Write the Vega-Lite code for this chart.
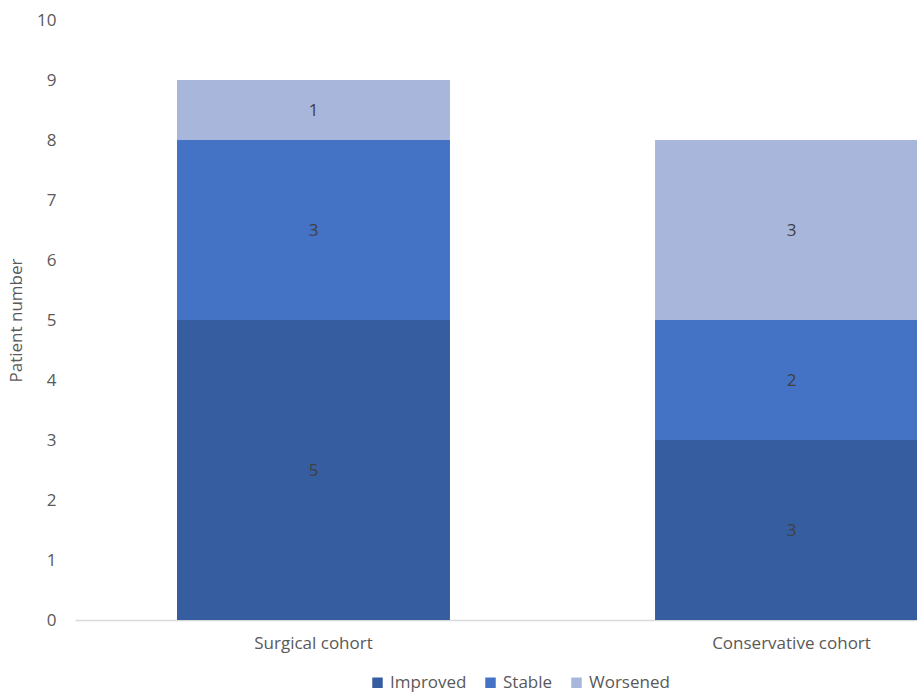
{
  "$schema": "https://vega.github.io/schema/vega-lite/v6.json",
  "width": 842,
  "height": 600,
  "autosize": {"type": "none"},
  "padding": {"left": 75, "top": 20, "right": 0, "bottom": 72},
  "background": "white",
  "config": {
    "view": {"stroke": null},
    "font": "Open Sans"
  },
  "data": {
    "values": [
      {"cohort": "Surgical cohort", "outcome": "Improved", "order": 1, "n": 5},
      {"cohort": "Surgical cohort", "outcome": "Stable", "order": 2, "n": 3},
      {"cohort": "Surgical cohort", "outcome": "Worsened", "order": 3, "n": 1},
      {"cohort": "Conservative cohort", "outcome": "Improved", "order": 1, "n": 3},
      {"cohort": "Conservative cohort", "outcome": "Stable", "order": 2, "n": 2},
      {"cohort": "Conservative cohort", "outcome": "Worsened", "order": 3, "n": 3}
    ]
  },
  "transform": [
    {"stack": "n", "groupby": ["cohort"], "sort": [{"field": "order", "order": "ascending"}], "as": ["y0", "y1"]},
    {"calculate": "(datum.y0 + datum.y1) / 2", "as": "ymid"}
  ],
  "encoding": {
    "x": {
      "field": "cohort",
      "type": "nominal",
      "sort": ["Surgical cohort", "Conservative cohort"],
      "scale": {"range": [0, 955], "paddingInner": 0.429, "paddingOuter": 0.2134},
      "axis": {
        "title": null,
        "labelAngle": 0,
        "labelFontSize": 17,
        "labelColor": "#595959",
        "labelPadding": 15,
        "ticks": false,
        "domainColor": "#D9D9D9",
        "domainWidth": 1.5
      }
    }
  },
  "layer": [
    {
      "mark": {"type": "bar"},
      "encoding": {
        "y": {
          "field": "y0",
          "type": "quantitative",
          "scale": {"domain": [0, 10], "nice": false},
          "axis": {
            "title": "Patient number",
            "titleFontSize": 17,
            "titleFontWeight": "normal",
            "titleColor": "#595959",
            "titlePadding": 11,
            "values": [0, 1, 2, 3, 4, 5, 6, 7, 8, 9, 10],
            "format": "d",
            "labelFontSize": 17,
            "labelColor": "#595959",
            "labelPadding": 19,
            "ticks": false,
            "domain": false,
            "grid": false
          }
        },
        "y2": {"field": "y1"},
        "color": {
          "field": "outcome",
          "type": "nominal",
          "sort": ["Improved", "Stable", "Worsened"],
          "scale": {"domain": ["Improved", "Stable", "Worsened"], "range": ["#365D9F", "#4472C4", "#A9B6DC"]},
          "legend": {
            "title": null,
            "orient": "none",
            "direction": "horizontal",
            "legendX": 294,
            "legendY": 654,
            "symbolType": "square",
            "symbolSize": 110,
            "symbolStrokeWidth": 0,
            "labelFontSize": 17,
            "labelColor": "#595959",
            "labelOffset": 4,
            "columnPadding": 15
          }
        }
      }
    },
    {
      "mark": {"type": "text", "fontSize": 17, "color": "#404040", "dy": 1},
      "encoding": {
        "y": {"field": "ymid", "type": "quantitative"},
        "text": {"field": "n", "type": "quantitative"}
      }
    }
  ]
}
